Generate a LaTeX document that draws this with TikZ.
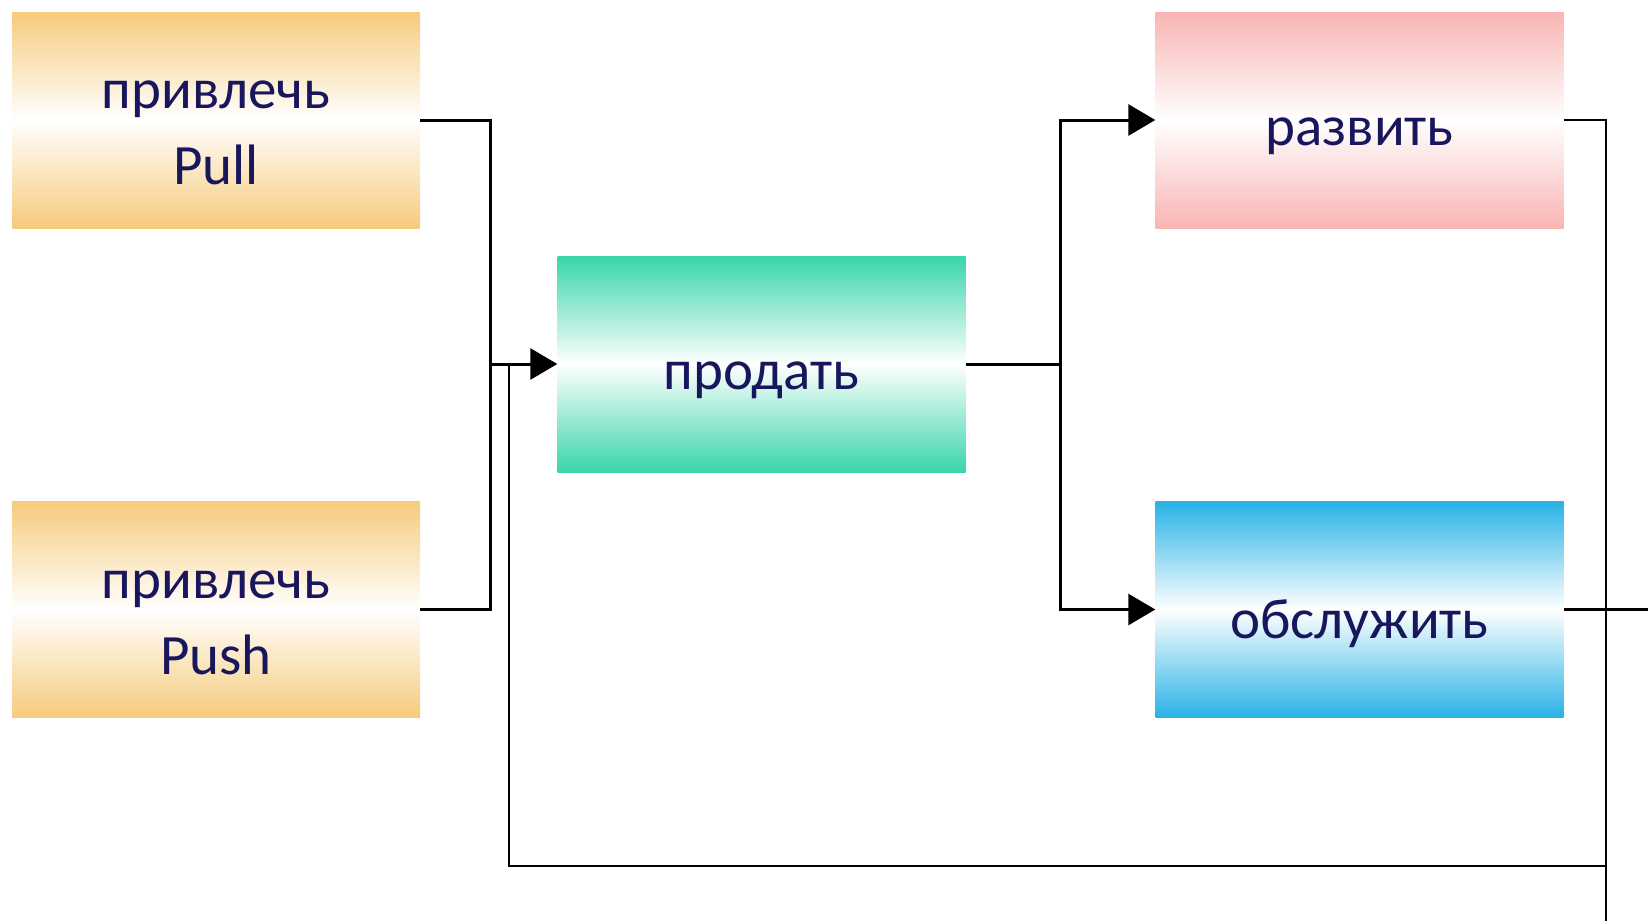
\documentclass[tikz,border=0pt]{standalone}
\usepackage{fontspec}
\setmainfont{Carlito}
\usetikzlibrary{arrows.meta}

\definecolor{txtnavy}{RGB}{24,22,92}
\definecolor{sand}{RGB}{246,203,124}
\definecolor{mint}{RGB}{56,213,170}
\definecolor{rose}{RGB}{249,180,180}
\definecolor{sky}{RGB}{40,178,230}

\tikzset{
  stagebox/.style={rectangle, minimum width=408pt, minimum height=216pt,
    inner sep=0pt, draw=none,
    top color=#1, bottom color=#1, middle color=white},
  stagetext/.style={inner sep=0pt, align=center, text=txtnavy,
    font=\fontsize{57}{76}\selectfont},
  link/.style={draw=black, line width=3pt},
  thinlink/.style={draw=black, line width=2.3pt},
  tip/.style={link, -{Triangle[length=27pt,width=31pt]}}
}

\begin{document}
\begin{tikzpicture}[x=1pt, y=-1pt]
\useasboundingbox (0,0) rectangle (1648,921);

% stages
\node[stagebox=sand] (pull)  at (216,120)   {};
\node[stagebox=sand] (push)  at (216,609.5) {};
\node[stagebox=mint] (sell)  at (761.5,364) {};
\node[stagebox=rose] (dev)   at (1359.5,120) {};
\node[stagebox=sky]  (serve) at (1359.5,609.5) {};

% stage captions, set a little below the box centres
\node[stagetext] (pull-t)  at ([yshift=-13pt]pull.center)  {привлечь\\Pull};
\node[stagetext] (push-t)  at ([yshift=-13pt]push.center)  {привлечь\\Push};
\node[stagetext] (sell-t)  at ([yshift=-16pt]sell.center)  {продать};
\node[stagetext] (dev-t)   at ([yshift=-16pt]dev.center)   {развить};
\node[stagetext] (serve-t) at ([yshift=-14pt]serve.center) {обслужить};

% junction points
\coordinate (jin)  at (490,364);
\coordinate (jout) at (1060,364);
\coordinate (fin)  at (509,364);
\coordinate (fcor) at (509,866);
\coordinate (rtop) at (1606,120);
\coordinate (rbot) at (1606,921);
\coordinate (rcor) at (1606,866);
\coordinate (sout) at (1648,609.5);

% attraction into sales
\draw[link] (pull.east) -| (jin);
\draw[link] (push.east) -| (jin);
\draw[tip] (jin) -- (sell.west);

% sales into development and service
\draw[link] (sell.east) -- (jout);
\draw[tip] (jout) |- (dev.west);
\draw[tip] (jout) |- (serve.west);

% feedback loop
\draw[thinlink] (dev.east) -- (rtop) -- (rbot);
\draw[thinlink] (serve.east) -- (sout);
\draw[thinlink] (rcor) -- (fcor) -- (fin);
\end{tikzpicture}
\end{document}
